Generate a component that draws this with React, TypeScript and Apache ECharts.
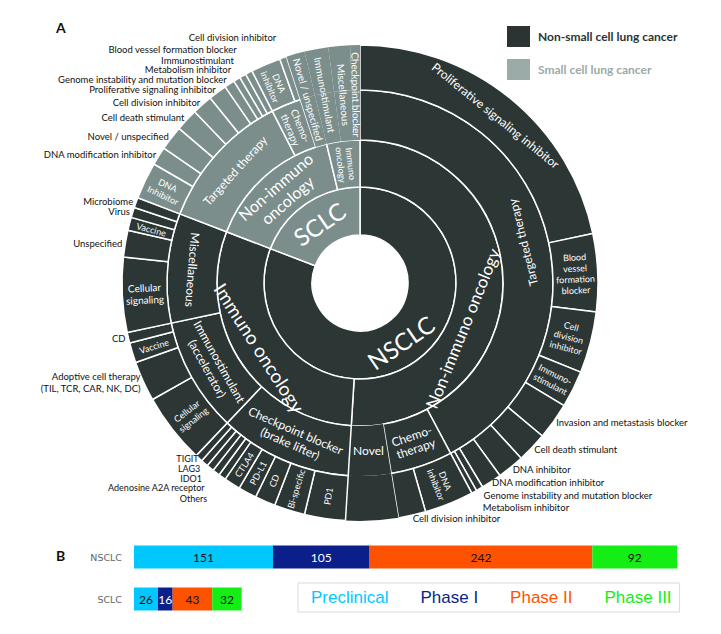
import React, { useEffect, useRef } from 'react';
import * as echarts from 'echarts';

// ---------- Data (angular shares) ----------
const nsclcTargetedNames = ['Proliferative signaling inhibitor', 'Blood vessel formation blocker', 'Cell division inhibitor', 'Immuno-stimulant', 'Invasion and metastasis blocker', 'Cell death stimulant', 'DNA inhibitor', 'DNA modification inhibitor', 'Genome instability and mutation blocker', 'Metabolism inhibitor'];
const nsclcTargetedValues = [78, 19, 15, 9, 9, 7.4, 6.6, 5, 1.7, 1.3];
const nsclcChemoNames = ['DNA inhibitor', 'Cell division inhibitor'];
const nsclcChemoValues = [12, 6.7];
const nsclcNovelValue = 12.8;
const nsclcCheckpointNames = ['PD1', 'Bi-specific', 'CD', 'PD-L1', 'CTLA4', 'Others', 'Adenosine A2A receptor', 'IDO1', 'LAG3', 'TIGIT'];
const nsclcCheckpointValues = [10, 7.5, 5, 4.5, 4, 1.8, 1.8, 1.8, 1.8, 1.8];
const nsclcImmunostimNames = ['Cellular signaling', 'Adoptive cell therapy (TIL, TCR, CAR, NK, DC)', 'Vaccine', 'CD'];
const nsclcImmunostimValues = [17.2, 9.8, 4.9, 2.6];
const nsclcMiscNames = ['Cellular signaling', 'Unspecified', 'Vaccine', 'Virus', 'Microbiome'];
const nsclcMiscValues = [18.3, 6.5, 3.2, 2.5, 2.5];
const sclcTargetedNames = ['DNA Inhibitor', 'DNA modification inhibitor', 'Novel / unspecified', 'Cell death stimulant', 'Cell division inhibitor', 'Proliferative signaling inhibitor', 'Genome instability and mutation blocker', 'Metabolism inhibitor', 'Immunostimulant', 'Blood vessel formation blocker'];
const sclcTargetedValues = [9, 4.5, 6, 5.5, 5, 4.5, 2.5, 1.7, 1.6, 1.7];
const sclcChemoNames = ['DNA inhibitor', 'Cell division inhibitor'];
const sclcChemoValues = [7.3, 1.7];
const sclcNovelValue = 4.5;
const sclcImmunoNames = ['Immunostimulant', 'Miscellaneous', 'Checkpoint blocker'];
const sclcImmunoValues = [5.8, 5.3, 2.4];

const phaseNames = ['Preclinical', 'Phase I', 'Phase II', 'Phase III'];
const barCategories = ['NSCLC', 'SCLC'];
const nsclcPhaseCounts = [151, 105, 242, 92];
const sclcPhaseCounts = [26, 16, 43, 32];

// ---------- Styles ----------
const FONT = 'Lato, "Open Sans", sans-serif';
const DARK = '#2b3635';
const LIGHT = '#7b8e8b';
const phaseColors = ['#00c8ff', '#0b1f8a', '#ff5200', '#14ee14'];

const outside = (d: number, extra: any = {}) => ({ position: 'outside', rotate: 0, distance: d, color: '#111', fontSize: 9.5, ...extra });

const labelStyles: Record<string, any> = {
  'N': { rotate: 'tangential', fontSize: 24 },
  'S': { rotate: 'tangential', fontSize: 24 },
  'N.NI': { rotate: 68, fontSize: 17, padding: [0, 90, 10, 0] },
  'N.IO': { rotate: 'tangential', fontSize: 19, padding: [0, 0, 10, 0] },
  'S.NI': { rotate: 'tangential', fontSize: 16, formatter: 'Non-immuno\noncology', lineHeight: 18 },
  'S.IO': { rotate: 'radial', fontSize: 9, formatter: 'Immuno\noncology', lineHeight: 10 },
  'N.TT': { rotate: 104, fontSize: 12 },
  'N.CH': { rotate: 'tangential', fontSize: 12, formatter: 'Chemo-\ntherapy', lineHeight: 13 },
  'N.NV': { rotate: 0, fontSize: 12, padding: [42, 0, 0, 0] },
  'N.CB': { rotate: 'tangential', fontSize: 12, formatter: 'Checkpoint blocker\n(brake lifter)', lineHeight: 14 },
  'N.IS': { rotate: 'tangential', fontSize: 12, formatter: 'Immunostimulant\n(accelerator)', lineHeight: 14 },
  'N.MS': { rotate: -94.5, fontSize: 12 },
  'S.TT': { rotate: 'tangential', fontSize: 12 },
  'S.CH': { rotate: 'radial', fontSize: 10, formatter: 'Chemo-\ntherapy', lineHeight: 11 },
  'S.NV': { rotate: 'radial', fontSize: 10, align: 'left', distance: 5 },
  'S.IO:0': { rotate: 'radial', fontSize: 10, align: 'left', distance: 10 },
  'S.IO:1': { rotate: 'radial', fontSize: 10, align: 'left', distance: 15 },
  'S.IO:2': { rotate: 'radial', fontSize: 10, align: 'left', distance: 3 },
  'N.TT:0': { rotate: 'tangential', fontSize: 12, padding: [20, 0, 0, 0] },
  'N.TT:1': { formatter: 'Blood\nvessel\nformation\nblocker', lineHeight: 11 },
  'N.TT:2': { formatter: 'Cell\ndivision\ninhibitor', lineHeight: 11 },
  'N.TT:3': { formatter: 'Immuno-\nstimulant', lineHeight: 11 },
  'N.TT:4': outside(3), 'N.TT:5': outside(3), 'N.TT:6': outside(3), 'N.TT:7': outside(1),
  'N.TT:8': outside(8), 'N.TT:9': outside(18),
  'N.CH:0': { formatter: 'DNA\ninhibitor', lineHeight: 10 },
  'N.CH:1': outside(3),
  'N.CB:5': outside(26, { fontSize: 9 }), 'N.CB:6': outside(19, { fontSize: 9 }), 'N.CB:7': outside(13, { fontSize: 9 }),
  'N.CB:8': outside(6.5, { fontSize: 9 }), 'N.CB:9': outside(0.5, { fontSize: 9 }),
  'N.IS:0': { formatter: 'Cellular\nsignaling', lineHeight: 11 },
  'N.IS:1': outside(3, { formatter: 'Adoptive cell therapy\n(TIL, TCR, CAR, NK, DC)', lineHeight: 12 }),
  'N.IS:3': outside(3),
  'N.MS:0': { formatter: 'Cellular\nsignaling', lineHeight: 12, fontSize: 10 },
  'N.MS:1': outside(3), 'N.MS:3': outside(3), 'N.MS:4': outside(3),
  'S.TT:0': { formatter: 'DNA\nInhibitor', lineHeight: 11 },
  'S.TT:1': outside(3), 'S.TT:2': outside(3), 'S.TT:3': outside(3), 'S.TT:4': outside(3), 'S.TT:5': outside(3),
  'S.TT:6': outside(5), 'S.TT:7': outside(11), 'S.TT:8': outside(18), 'S.TT:9': outside(26),
  'S.CH:0': { formatter: 'DNA\ninhibitor', lineHeight: 10 },
  'S.CH:1': outside(21),
};

// ---------- Tree builders ----------
const group = (name: string, code: string, children: any[]) => ({ name, code, children });
const leafList = (code: string, names: string[], values: number[]) =>
  names.map((n, i) => ({ name: n, code: code + ':' + i, value: values[i] }));
const span = (name: string, code: string, value: number) =>
  ({ name, code, span: true, children: [{ name, code: code + ':c', value, spanChild: true }] });

const rawTree = [
  group('NSCLC', 'N', [
    group('Non-immuno oncology', 'N.NI', [
      group('Targeted therapy', 'N.TT', leafList('N.TT', nsclcTargetedNames, nsclcTargetedValues)),
      group('Chemo-therapy', 'N.CH', leafList('N.CH', nsclcChemoNames, nsclcChemoValues)),
      span('Novel', 'N.NV', nsclcNovelValue),
    ]),
    group('Immuno oncology', 'N.IO', [
      group('Checkpoint blocker (brake lifter)', 'N.CB', leafList('N.CB', nsclcCheckpointNames, nsclcCheckpointValues)),
      group('Immunostimulant (accelerator)', 'N.IS', leafList('N.IS', nsclcImmunostimNames, nsclcImmunostimValues)),
      group('Miscellaneous', 'N.MS', leafList('N.MS', nsclcMiscNames, nsclcMiscValues)),
    ]),
  ]),
  group('SCLC', 'S', [
    group('Non-immuno oncology', 'S.NI', [
      group('Targeted therapy', 'S.TT', leafList('S.TT', sclcTargetedNames, sclcTargetedValues)),
      group('Chemo-therapy', 'S.CH', leafList('S.CH', sclcChemoNames, sclcChemoValues)),
      span('Novel / unspecified', 'S.NV', sclcNovelValue),
    ]),
    group('Immuno oncology', 'S.IO', sclcImmunoNames.map((n, i) => span(n, 'S.IO:' + i, sclcImmunoValues[i]))),
  ]),
];

function decorate(node: any, color: string): any {
  const out: any = { name: node.name };
  if (node.value != null) out.value = node.value;
  out.itemStyle = { color, borderColor: '#fff', borderWidth: node.span || node.spanChild ? 0 : 1.5 };
  const ls = labelStyles[node.code] || {};
  out.label = node.spanChild ? { show: false } : { show: true, ...ls };
  if (node.children) out.children = node.children.map((c: any) => decorate(c, color));
  return out;
}

const sunburstData = rawTree.map((n, i) => decorate(n, i === 0 ? DARK : LIGHT));

export default function App() {
  const ref = useRef<HTMLDivElement>(null);
  useEffect(() => {
    if (!ref.current) return;
    const chart = echarts.init(ref.current, undefined, { renderer: 'svg' });
    chart.setOption({
      animation: false,
      backgroundColor: '#fff',
      textStyle: { fontFamily: FONT },
      grid: { left: 134, top: 536, width: 543, height: 84 },
      xAxis: { type: 'value', min: 0, max: 590, show: false },
      yAxis: {
        type: 'category', data: barCategories, inverse: true,
        axisLine: { show: false }, axisTick: { show: false },
        axisLabel: { color: '#666', fontSize: 9.5, margin: 12, fontFamily: 'DejaVu Sans' },
      },
      legend: {
        left: 298, top: 583, itemWidth: 0, itemHeight: 0, icon: 'none', itemGap: 27,
        padding: [6, 8, 6, 8], borderColor: '#d9d9d9', borderWidth: 1, selectedMode: false,
        textStyle: { fontSize: 17, fontFamily: '"Liberation Sans Narrow", "Liberation Sans", Arial' },
        data: phaseNames.map((n, i) => ({ name: n, textStyle: { color: phaseColors[i] } })),
      },
      graphic: [
        { type: 'text', left: 56, top: 20, style: { text: 'A', font: 'bold 14px ' + FONT, fill: '#111' } },
        { type: 'text', left: 56, top: 548, style: { text: 'B', font: 'bold 14px ' + FONT, fill: '#111' } },
        { type: 'rect', shape: { x: 507, y: 26, width: 23, height: 21 }, style: { fill: '#2b3433' } },
        { type: 'text', x: 538, y: 36, style: { text: 'Non-small cell lung cancer', font: 'bold 12px ' + FONT, fill: '#2b3433', textVerticalAlign: 'middle' } },
        { type: 'rect', shape: { x: 507, y: 59, width: 23, height: 21 }, style: { fill: '#9aaba8' } },
        { type: 'text', x: 538, y: 69, style: { text: 'Small cell lung cancer', font: 'bold 12px ' + FONT, fill: '#9aaba8', textVerticalAlign: 'middle' } },
      ],
      series: [
        {
          type: 'sunburst',
          center: [360, 283],
          radius: [48, 238],
          sort: null,
          nodeClick: false,
          startAngle: 90,
          clockwise: true,
          emphasis: { focus: 'none' },
          itemStyle: { borderColor: '#fff', borderWidth: 1.5 },
          label: { color: '#fff', fontFamily: FONT, fontSize: 9, rotate: 'radial' },
          levels: [{}, { r0: 48, r: 96 }, { r0: 96, r: 143 }, { r0: 143, r: 193 }, { r0: 193, r: 238 }],
          data: sunburstData,
        },
        ...phaseNames.map((name, i) => ({
          type: 'bar', name, stack: 'total', barWidth: 23,
          data: [nsclcPhaseCounts[i], sclcPhaseCounts[i]],
          itemStyle: { color: phaseColors[i] },
          label: { show: true, position: 'inside', color: i === 1 ? '#fff' : '#111', fontSize: 12, fontFamily: FONT },
        })),
      ],
    });
    return () => chart.dispose();
  }, []);
  return <div ref={ref} style={{ position: 'fixed', left: 0, top: 0, width: 721, height: 634 }} />;
}
